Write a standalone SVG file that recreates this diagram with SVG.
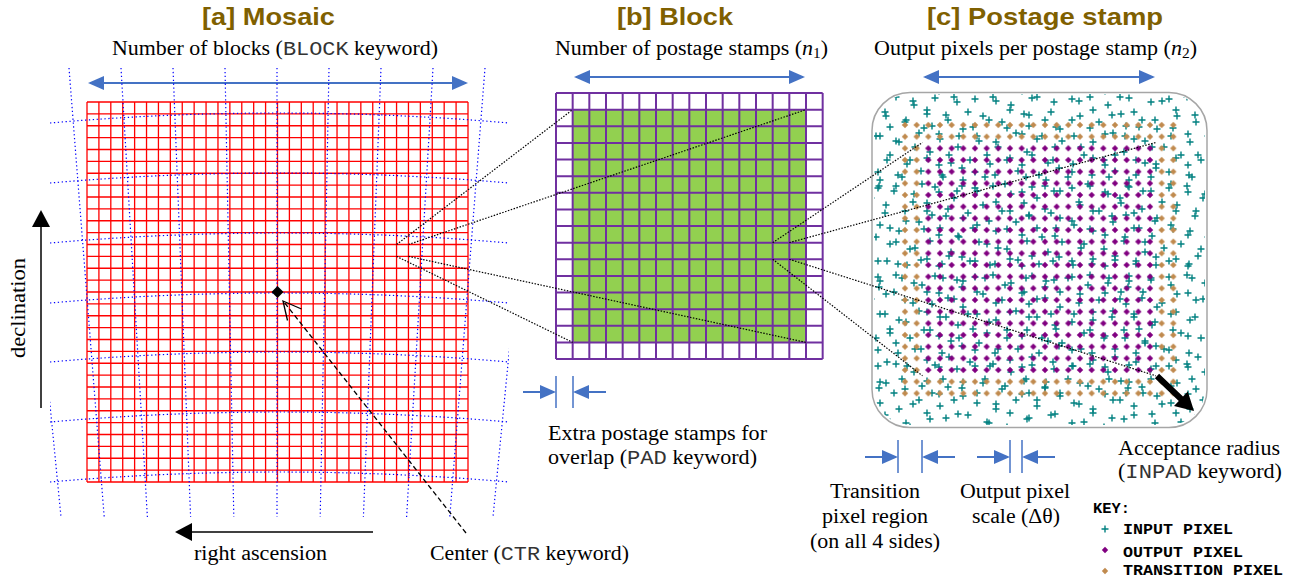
<svg xmlns="http://www.w3.org/2000/svg" xmlns:xlink="http://www.w3.org/1999/xlink" width="1295" height="580" viewBox="0 0 1295 580">
<style>
.s{font-family:'Liberation Serif','Times New Roman',serif;font-size:20px;fill:#000}
.t{font-family:'Liberation Sans',Arial,sans-serif;font-weight:bold;font-size:24px;fill:#7F6000}
.m{font-family:'Liberation Mono','Courier New',monospace;fill:#333}
.k{font-family:'Liberation Mono','Courier New',monospace;font-weight:bold;font-size:14px;fill:#000}
.bl{stroke:#4472C4;stroke-width:2;fill:none}
.bar{stroke:#4472C4;stroke-width:1.5}
.dot{stroke:#000;stroke-width:1.2;stroke-dasharray:1.5 1.5;fill:none}
.bd{stroke:#0000FF;stroke-width:1.2;stroke-dasharray:1.3 2.6;fill:none}
.pl{stroke:#008080;stroke-width:1.4;fill:none}
</style>
<defs>
<marker id="ab" markerUnits="userSpaceOnUse" markerWidth="16" markerHeight="14" refX="14" refY="7" orient="auto-start-reverse" viewBox="0 0 16 14"><path d="M0 0L16 7 0 14Z" fill="#4472C4"/></marker>
<marker id="ak" markerUnits="userSpaceOnUse" markerWidth="17" markerHeight="18" refX="15" refY="9" orient="auto" viewBox="0 0 17 18"><path d="M0 0L17 9 0 18Z" fill="#000"/></marker>
<path id="plus" class="pl" d="M-3.5 0h7M0-3.5v7"/>
<path id="dia" d="M0-3.2L3.2 0 0 3.2-3.2 0Z"/>
<pattern id="pA" patternUnits="userSpaceOnUse" x="872" y="92" width="97" height="89">
<use href="#plus" x="6" y="7"/><use href="#plus" x="24" y="5"/><use href="#plus" x="42" y="13"/><use href="#plus" x="63" y="6"/><use href="#plus" x="85" y="10"/><use href="#plus" x="14" y="24"/><use href="#plus" x="33" y="30"/><use href="#plus" x="55" y="22"/><use href="#plus" x="76" y="28"/><use href="#plus" x="91" y="37"/><use href="#plus" x="8" y="44"/><use href="#plus" x="27" y="50"/><use href="#plus" x="47" y="41"/><use href="#plus" x="68" y="47"/><use href="#plus" x="86" y="55"/><use href="#plus" x="18" y="63"/><use href="#plus" x="38" y="68"/><use href="#plus" x="58" y="60"/><use href="#plus" x="79" y="71"/><use href="#plus" x="6" y="80"/><use href="#plus" x="26" y="83"/><use href="#plus" x="49" y="79"/><use href="#plus" x="70" y="83"/><use href="#plus" x="90" y="76"/><use href="#plus" x="60" y="34"/>
</pattern>
<pattern id="pB" patternUnits="userSpaceOnUse" x="850" y="70" width="83" height="101">
<use href="#plus" x="10" y="6"/><use href="#plus" x="30" y="9"/><use href="#plus" x="52" y="6"/><use href="#plus" x="72" y="13"/><use href="#plus" x="6" y="21"/><use href="#plus" x="21" y="27"/><use href="#plus" x="44" y="20"/><use href="#plus" x="63" y="31"/><use href="#plus" x="77" y="40"/><use href="#plus" x="13" y="45"/><use href="#plus" x="35" y="42"/><use href="#plus" x="56" y="50"/><use href="#plus" x="74" y="58"/><use href="#plus" x="6" y="64"/><use href="#plus" x="26" y="66"/><use href="#plus" x="46" y="71"/><use href="#plus" x="65" y="77"/><use href="#plus" x="16" y="85"/><use href="#plus" x="37" y="90"/><use href="#plus" x="57" y="94"/><use href="#plus" x="77" y="88"/><use href="#plus" x="6" y="95"/><use href="#plus" x="40" y="57"/><use href="#plus" x="29" y="15"/>
</pattern>
<pattern id="op" patternUnits="userSpaceOnUse" x="899.17" y="119.17" width="11.667" height="11.667"><use href="#dia" x="5.833" y="5.833" fill="#800080"/></pattern>
<pattern id="tp" patternUnits="userSpaceOnUse" x="899.17" y="119.17" width="11.667" height="11.667"><use href="#dia" x="5.833" y="5.833" fill="#C08A4E"/></pattern>
<clipPath id="cm"><rect x="50" y="66" width="459" height="453"/></clipPath>
<clipPath id="cs"><rect x="874" y="94" width="331" height="331" rx="36"/></clipPath>
</defs>

<!-- Mosaic -->
<g id="mosaic">
<text class="t" x="202" y="25" textLength="133" lengthAdjust="spacingAndGlyphs">[a] Mosaic</text>
<text class="s" x="112" y="54.5" textLength="326" lengthAdjust="spacingAndGlyphs">Number of blocks (<tspan class="m">BLOCK</tspan> keyword)</text>
<line class="bl" x1="90" y1="83" x2="466" y2="83" marker-start="url(#ab)" marker-end="url(#ab)"/>
<path stroke="#FF0000" stroke-width="1.3" fill="none" d="M87 102V482M98.91 102V482M110.81 102V482M122.72 102V482M134.62 102V482M146.53 102V482M158.44 102V482M170.34 102V482M182.25 102V482M194.15 102V482M206.06 102V482M217.97 102V482M229.87 102V482M241.78 102V482M253.68 102V482M265.59 102V482M277.5 102V482M289.4 102V482M301.31 102V482M313.21 102V482M325.12 102V482M337.03 102V482M348.93 102V482M360.84 102V482M372.74 102V482M384.65 102V482M396.56 102V482M408.46 102V482M420.37 102V482M432.27 102V482M444.18 102V482M456.09 102V482M468 102V482
M87 102H468M87 113.88H468M87 125.75H468M87 137.63H468M87 149.5H468M87 161.38H468M87 173.25H468M87 185.13H468M87 197H468M87 208.88H468M87 220.75H468M87 232.63H468M87 244.5H468M87 256.38H468M87 268.25H468M87 280.13H468M87 292H468M87 303.88H468M87 315.75H468M87 327.63H468M87 339.5H468M87 351.38H468M87 363.25H468M87 375.13H468M87 387H468M87 398.88H468M87 410.75H468M87 422.63H468M87 434.5H468M87 446.38H468M87 458.25H468M87 470.13H468M87 482H468"/>
<g class="bd" clip-path="url(#cm)">
<path d="M17 68L61 517M69 68L104.2 517M121 68L147.4 517M173 68L190.6 517M225 68L233.8 517M277 68L277 517M329 68L320.2 517M381 68L363.4 517M433 68L406.6 517M485 68L449.8 517M537 68L493 517"/>
<path d="M50 123Q279 103 509 123M50 183Q279 163 509 183M50 243Q279 223 509 243M50 303Q279 283 509 303M50 362Q279 342 509 362M50 422Q279 402 509 422M50 482Q279 462 509 482"/>
</g>
<path d="M277.5 286L283.5 292 277.5 298 271.5 292Z" fill="#000"/>
<line x1="41" y1="408" x2="41" y2="212" stroke="#000" stroke-width="1.5" marker-end="url(#ak)"/>
<text class="s" transform="translate(25,358) rotate(-90)" textLength="100" lengthAdjust="spacingAndGlyphs">declination</text>
<line x1="373" y1="532" x2="177" y2="532" stroke="#000" stroke-width="1.5" marker-end="url(#ak)"/>
<text class="s" x="194" y="560" textLength="133" lengthAdjust="spacingAndGlyphs">right ascension</text>
<text class="s" x="430" y="560" textLength="199" lengthAdjust="spacingAndGlyphs">Center (<tspan class="m">CTR</tspan> keyword)</text>
</g>

<!-- Block -->
<g id="block">
<text class="t" x="617" y="25" textLength="116" lengthAdjust="spacingAndGlyphs">[b] Block</text>
<text class="s" x="555" y="54.5" textLength="273" lengthAdjust="spacingAndGlyphs">Number of postage stamps (<tspan font-style="italic">n</tspan><tspan font-size="14" dy="3">1</tspan><tspan dy="-3">)</tspan></text>
<line class="bl" x1="576" y1="77" x2="803" y2="77" marker-start="url(#ab)" marker-end="url(#ab)"/>
<rect x="572.67" y="109.63" width="233.33" height="232.75" fill="#92D050"/>
<path stroke="#7030A0" stroke-width="2" fill="none" d="M556 93V359M572.67 93V359M589.33 93V359M606 93V359M622.67 93V359M639.33 93V359M656 93V359M672.67 93V359M689.33 93V359M706 93V359M722.67 93V359M739.33 93V359M756 93V359M772.67 93V359M789.33 93V359M806 93V359M822.67 93V359
M556 93H822.67M556 109.63H822.67M556 126.25H822.67M556 142.88H822.67M556 159.5H822.67M556 176.13H822.67M556 192.75H822.67M556 209.38H822.67M556 226H822.67M556 242.63H822.67M556 259.25H822.67M556 275.88H822.67M556 292.5H822.67M556 309.13H822.67M556 325.75H822.67M556 342.38H822.67M556 359H822.67"/>
<line class="bl" x1="523" y1="392" x2="554" y2="392" marker-end="url(#ab)"/>
<line class="bar" x1="556" y1="376" x2="556" y2="408"/>
<line class="bar" x1="573" y1="376" x2="573" y2="408"/>
<line class="bl" x1="606" y1="392" x2="575" y2="392" marker-end="url(#ab)"/>
<text class="s" x="548" y="440" textLength="219" lengthAdjust="spacingAndGlyphs">Extra postage stamps for</text>
<text class="s" x="548" y="464" textLength="209" lengthAdjust="spacingAndGlyphs">overlap (<tspan class="m">PAD</tspan> keyword)</text>
</g>

<!-- Postage stamp -->
<g id="stamp">
<text class="t" x="927" y="25" textLength="236" lengthAdjust="spacingAndGlyphs">[c] Postage stamp</text>
<text class="s" x="874" y="54.5" textLength="323" lengthAdjust="spacingAndGlyphs">Output pixels per postage stamp (<tspan font-style="italic">n</tspan><tspan font-size="14" dy="3">2</tspan><tspan dy="-3">)</tspan></text>
<line class="bl" x1="925" y1="77" x2="1153" y2="77" marker-start="url(#ab)" marker-end="url(#ab)"/>
<g clip-path="url(#cs)">
<rect x="872" y="92" width="335" height="335" fill="url(#pA)"/>
<rect x="872" y="92" width="335" height="335" fill="url(#pB)"/>
</g>
<path fill="url(#tp)" fill-rule="evenodd" d="M899.17 119.17h280v280h-280zM922.5 142.5v233.33h233.33v-233.33z"/>
<rect x="922.5" y="142.5" width="233.33" height="233.33" fill="url(#op)"/>
<rect x="872" y="92.5" width="335" height="335" rx="38" fill="none" stroke="#A6A6A6" stroke-width="1.5"/>
<path d="M1154.9 378.2L1178.8 400.9 1174 406 1194 411 1187.8 391.4 1183 396.5 1159.1 373.8Z" fill="#000"/>
<text class="s" x="1118" y="455" textLength="162" lengthAdjust="spacingAndGlyphs">Acceptance radius</text>
<text class="s" x="1118" y="478" textLength="164" lengthAdjust="spacingAndGlyphs">(<tspan class="m">INPAD</tspan> keyword)</text>
<line class="bl" x1="865" y1="457" x2="896" y2="457" marker-end="url(#ab)"/>
<line class="bar" x1="898" y1="440" x2="898" y2="473"/>
<line class="bar" x1="922" y1="440" x2="922" y2="473"/>
<line class="bl" x1="955" y1="457" x2="924" y2="457" marker-end="url(#ab)"/>
<line class="bl" x1="977" y1="457" x2="1008" y2="457" marker-end="url(#ab)"/>
<line class="bar" x1="1010" y1="440" x2="1010" y2="473"/>
<line class="bar" x1="1022" y1="440" x2="1022" y2="473"/>
<line class="bl" x1="1055" y1="457" x2="1024" y2="457" marker-end="url(#ab)"/>
<text class="s" x="830" y="498" textLength="90" lengthAdjust="spacingAndGlyphs">Transition</text>
<text class="s" x="822" y="523" textLength="106" lengthAdjust="spacingAndGlyphs">pixel region</text>
<text class="s" x="810" y="548" textLength="130" lengthAdjust="spacingAndGlyphs">(on all 4 sides)</text>
<text class="s" x="960" y="498" textLength="110" lengthAdjust="spacingAndGlyphs">Output pixel</text>
<text class="s" x="972" y="523" textLength="88" lengthAdjust="spacingAndGlyphs">scale (Δθ)</text>
</g>

<!-- Key -->
<g id="key">
<text class="k" x="1093" y="513" textLength="37" lengthAdjust="spacingAndGlyphs">KEY:</text>
<use href="#plus" x="1105" y="529"/>
<text class="k" x="1123" y="534" textLength="110" lengthAdjust="spacingAndGlyphs">INPUT PIXEL</text>
<use href="#dia" x="1105" y="550" fill="#800080"/>
<text class="k" x="1123" y="557" textLength="120" lengthAdjust="spacingAndGlyphs">OUTPUT PIXEL</text>
<use href="#dia" x="1105" y="571" fill="#C08A4E"/>
<text class="k" x="1123" y="575" textLength="160" lengthAdjust="spacingAndGlyphs">TRANSITION PIXEL</text>
</g>

<!-- Connectors -->
<g id="connectors">
<path class="dot" d="M396.56 244.5L572.67 109.63M408.46 244.5L806 109.63M396.56 256.38L572.67 342.38M408.46 256.38L806 342.38"/>
<path class="dot" d="M772.67 242.63L922.5 142.5M789.33 242.63L1155.83 142.5M772.67 259.25L922.5 375.83M789.33 259.25L1155.83 375.83"/>
<line x1="466" y1="533" x2="284" y2="302" stroke="#000" stroke-width="1.3" stroke-dasharray="5 3"/>
<polyline points="301.5,309 283,301 287.5,320.5" fill="none" stroke="#000" stroke-width="1.3"/>
</g>
</svg>
